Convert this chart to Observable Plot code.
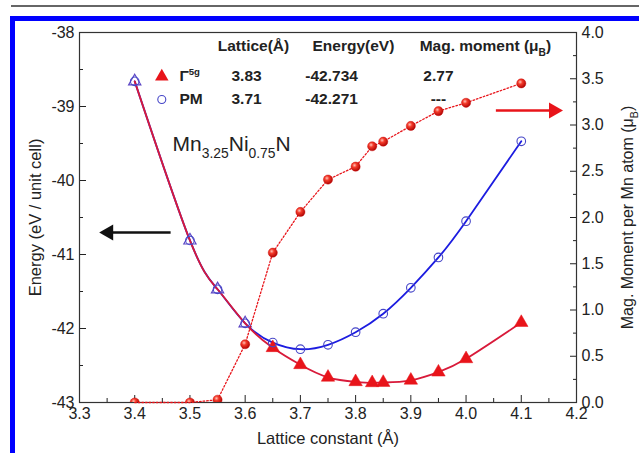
<!DOCTYPE html>
<html><head><meta charset="utf-8">
<script src="https://cdn.jsdelivr.net/npm/d3@7"></script>
<script src="https://cdn.jsdelivr.net/npm/@observablehq/plot@0.6"></script>
<style>
body{margin:0;background:#fff;}
#wrap{position:relative;width:639px;height:453px;overflow:hidden;background:#fff;}
.deco{position:absolute;}
</style></head><body><div id="wrap"></div>
<script>
// Γ5g state: lattice constant, energy (eV / unit cell), magnetic moment (μB per Mn)
const latticeG = [3.40, 3.50, 3.55, 3.60, 3.65, 3.70, 3.75, 3.80, 3.83, 3.85, 3.90, 3.95, 4.00, 4.10];
const energyG  = [-38.66, -40.81, -41.47, -41.93, -42.26, -42.49, -42.66, -42.72, -42.734, -42.73, -42.70, -42.59, -42.41, -41.92];
const momentG  = [0.00, 0.00, 0.03, 0.63, 1.62, 2.06, 2.41, 2.55, 2.77, 2.82, 2.99, 3.15, 3.24, 3.45];
// PM state
const latticePM = [3.40, 3.50, 3.55, 3.60, 3.65, 3.70, 3.75, 3.80, 3.85, 3.90, 3.95, 4.00, 4.10];
const energyPM  = [-38.66, -40.81, -41.47, -41.93, -42.19, -42.28, -42.22, -42.05, -41.80, -41.45, -41.04, -40.55, -39.47];

// axes
const xTicks = [3.3, 3.4, 3.5, 3.6, 3.7, 3.8, 3.9, 4.0, 4.1, 4.2];
const xMinor = [3.35, 3.45, 3.55, 3.65, 3.75, 3.85, 3.95, 4.05, 4.15];
const eTicks = [-43, -42, -41, -40, -39, -38];
const eMinor = [-42.5, -41.5, -40.5, -39.5, -38.5];
const mTicks = [0, 0.5, 1.0, 1.5, 2.0, 2.5, 3.0, 3.5, 4.0];
const mMinor = [0.25, 0.75, 1.25, 1.75, 2.25, 2.75, 3.25, 3.75];

// legend table
const headers = [
  {x: 3.615, y: -38.18, t: "Lattice(Å)"},
  {x: 3.796, y: -38.18, t: "Energy(eV)"},
  {x: 4.035, y: -38.18, t: "Mag. moment (μ_{B})"}
];
const rowY = [-38.595, -38.905];
const rowName = ["Γ^{5g}", "PM"];
const rowLattice = ["3.83", "3.71"];
const rowEnergy = ["-42.734", "-42.271"];
const rowMoment = ["2.77", "---"];
const colX = {marker: 3.449, name: 3.481, lat: 3.6025, en: 3.7565, mom: 3.95};

const formula = "Mn_{3.25}Ni_{0.75}N";
const formulaPos = {x: 3.4685, y: -39.514};
const arrowsData = [
  {x1: 3.465, x2: 3.3525, y: -40.703, c: "#111", rot: -90},
  {x1: 4.054, x2: 4.1587, y: -39.054, c: "#e8141a", rot: 90}
];

const E0 = -43, K = 1.25; // moment axis (0..4) mapped onto energy axis (-43..-38)
const toE = m => E0 + K * m;

const gData = latticeG.map((x, i) => ({x, e: energyG[i], m: momentG[i]}));
const pData = latticePM.map((x, i) => ({x, e: energyPM[i]}));
const rows = rowY.map((y, i) => ({y, name: rowName[i], lat: rowLattice[i], en: rowEnergy[i], mom: rowMoment[i]}));
const gNonMag = gData.filter(d => d.m < 0.7);   // coincide with PM points
const gMag = gData.filter(d => d.m >= 0.7);

const RED = "#e8141a", BLUE = "#1c1ce0", CIRC = "#4646c8";
const font = 'Arial, "Liberation Sans", Helvetica, sans-serif';

const plot = Plot.plot({
  width: 639, height: 453,
  marginLeft: 79, marginRight: 63, marginTop: 32, marginBottom: 51,
  style: {fontFamily: font, fontSize: "16px", color: "#222", background: "transparent"},
  x: {domain: [3.3, 4.2]},
  y: {domain: [-43, -38]},
  marks: [
    // axes (inward ticks)
    Plot.axisX({ticks: xTicks, tickSize: -7, tickPadding: 12, tickFormat: d => d.toFixed(1), label: null, fontSize: 16}),
    Plot.axisX({ticks: xMinor, tickSize: -4, tickFormat: () => "", label: null}),
    Plot.axisY({anchor: "left", ticks: eTicks, tickSize: -7, tickPadding: 12, tickFormat: d => d.toFixed(0), label: null, fontSize: 16}),
    Plot.axisY({anchor: "left", ticks: eMinor, tickSize: -4, tickFormat: () => "", label: null}),
    Plot.axisY({anchor: "right", ticks: mTicks.map(toE), tickSize: -7, tickPadding: 12, tickFormat: v => ((v - E0) / K).toFixed(1), label: null, fontSize: 16}),
    Plot.axisY({anchor: "right", ticks: mMinor.map(toE), tickSize: -4, tickFormat: () => "", label: null}),
    Plot.frame({stroke: "#333", strokeWidth: 1.2}),

    // curves
    Plot.line(pData, {x: "x", y: "e", curve: "natural", stroke: BLUE, strokeWidth: 1.8}),
    Plot.line(gData, {x: "x", y: "e", curve: "natural", stroke: "#d81a3a", strokeWidth: 1.8}),
    Plot.dot(gMag, {x: "x", y: "e", symbol: "triangle", r: 5, fill: RED, stroke: RED, strokeWidth: 0.5}),
    Plot.dot(gNonMag, {x: "x", y: "e", symbol: "triangle", r: 4.6, fill: "none", stroke: "#5a44c4", strokeWidth: 1.1}),
    Plot.dot(pData, {x: "x", y: "e", r: 4.3, stroke: CIRC, strokeWidth: 1.1, fill: "none"}),
    Plot.line(gData, {x: "x", y: d => toE(d.m), stroke: RED, strokeWidth: 1.3, strokeDasharray: "1.6,2"}),
    Plot.dot(gData, {x: "x", y: d => toE(d.m), r: 4.6, fill: "url(#ball)", stroke: "#c00", strokeWidth: 0.4, clip: true}),

    // arrows (shaft + filled head)
    Plot.link(arrowsData, {x1: "x1", x2: "x2", y1: "y", y2: "y", stroke: "c", strokeWidth: 2.4}),
    Plot.dot(arrowsData, {x: "x2", y: "y", symbol: "triangle", r: 6, fill: "c", rotate: "rot"}),

    // legend table
    Plot.text(headers, {x: "x", y: "y", text: "t", fontWeight: "bold", fontSize: 15.5}),
    Plot.dot(rows.slice(0, 1), {x: () => colX.marker, y: "y", symbol: "triangle", r: 5, fill: RED}),
    Plot.dot(rows.slice(1), {x: () => colX.marker, y: "y", r: 4, stroke: CIRC, fill: "none", strokeWidth: 1.1}),
    Plot.text(rows, {x: () => colX.name, y: "y", text: "name", textAnchor: "start", fontWeight: "bold", fontSize: 15.5}),
    Plot.text(rows, {x: () => colX.lat, y: "y", text: "lat", fontWeight: "bold", fontSize: 15.5}),
    Plot.text(rows, {x: () => colX.en, y: "y", text: "en", fontWeight: "bold", fontSize: 15.5}),
    Plot.text(rows, {x: () => colX.mom, y: "y", text: "mom", fontWeight: "bold", fontSize: 15.5}),
    Plot.text([formula], {x: () => formulaPos.x, y: () => formulaPos.y, text: d => d, textAnchor: "start", fontSize: 21}),

    // axis titles
    Plot.text(["Lattice constant (Å)"], {frameAnchor: "bottom", dy: 41, text: d => d, fontSize: 16.5}),
    Plot.text(["Energy (eV / unit cell)"], {frameAnchor: "left", dx: -44, rotate: -90, textAnchor: "middle", text: d => d, fontSize: 16.5}),
    Plot.text(["Mag. Moment per Mn atom (μ_{B})"], {frameAnchor: "right", dx: 51, rotate: -90, textAnchor: "middle", text: d => d, fontSize: 16})
  ]
});

const wrap = document.getElementById("wrap");
wrap.appendChild(plot);

// gradient for the shaded red balls
d3.select(plot).insert("defs", ":first-child").html(
  '<radialGradient id="ball" cx="38%" cy="35%" r="70%">' +
  '<stop offset="0%" stop-color="#ffc4b8"/><stop offset="35%" stop-color="#f43a2a"/>' +
  '<stop offset="100%" stop-color="#a80000"/></radialGradient>');

// sub/superscripts: _{..} and ^{..}
plot.querySelectorAll("text").forEach(t => {
  const s = t.textContent;
  if (!/[_^]\{/.test(s)) return;
  const fs = parseFloat(getComputedStyle(t).fontSize) || 16;
  const parts = [];
  const re = /([_^])\{([^}]*)\}/g;
  let last = 0, m;
  while ((m = re.exec(s))) {
    if (m.index > last) parts.push({kind: "n", txt: s.slice(last, m.index)});
    parts.push({kind: m[1], txt: m[2]});
    last = re.lastIndex;
  }
  if (last < s.length) parts.push({kind: "n", txt: s.slice(last)});
  while (t.firstChild) t.removeChild(t.firstChild);
  let shift = 0;
  for (const p of parts) {
    const ts = document.createElementNS("http://www.w3.org/2000/svg", "tspan");
    let target = 0;
    if (p.kind === "_") { target = 0.32 * fs; ts.setAttribute("font-size", (0.66 * fs) + "px"); }
    if (p.kind === "^") { target = -0.45 * fs; ts.setAttribute("font-size", (0.62 * fs) + "px"); }
    if (target !== shift) ts.setAttribute("dy", (target - shift) + "px");
    shift = target;
    ts.textContent = p.txt;
    t.appendChild(ts);
  }
});

// page decorations (journal frame)
const deco = [
  {l: 11, t: 5, w: 628, h: 2, c: "#666"},
  {l: 10, t: 16, w: 629, h: 5, c: "#0000ff"},
  {l: 10, t: 16, w: 5, h: 437, c: "#0000ff"}
];
for (const d of deco) {
  const el = document.createElement("div");
  el.className = "deco";
  Object.assign(el.style, {left: d.l + "px", top: d.t + "px", width: d.w + "px", height: d.h + "px", background: d.c});
  wrap.appendChild(el);
}
</script></body></html>
